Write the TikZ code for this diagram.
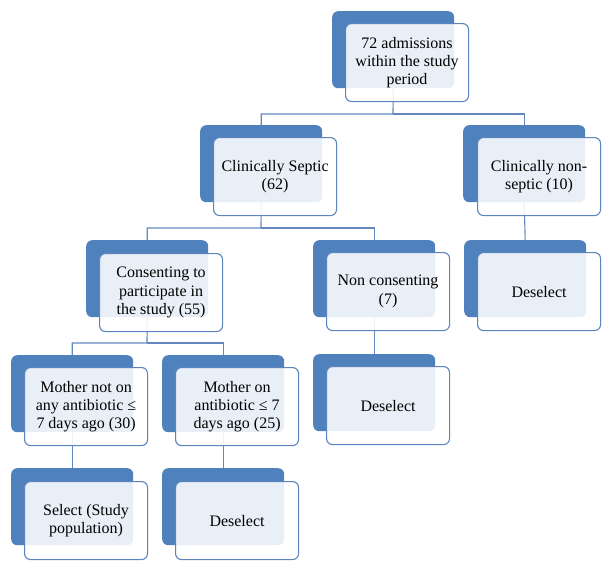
\documentclass[tikz,border=0pt]{standalone}
\usepackage{fontspec}
\setmainfont{Liberation Serif}
\definecolor{bk}{RGB}{79,129,189}
\definecolor{bd}{RGB}{92,132,190}
\definecolor{ln}{RGB}{100,136,190}
\tikzset{
  backbox/.style={fill=bk, draw=none, rounded corners=6pt, minimum width=122pt, minimum height=77pt, anchor=north west, inner sep=0pt},
  frontbox/.style={fill=white, fill opacity=0.88, text opacity=1, draw=bd, draw opacity=1, line width=1.1pt, rounded corners=6pt, minimum width=123pt, minimum height=78pt, anchor=north west, inner sep=2pt, align=center, font=\fontsize{16}{18.3}\selectfont},
  conn/.style={draw=ln, line width=1.1pt}
}
\begin{document}
\begin{tikzpicture}[x=1pt,y=-1pt]
\useasboundingbox (0,0) rectangle (611,570);
% back boxes
\node[backbox] (topb) at (332,11) {};
\node[backbox] (sepb) at (200,125) {};
\node[backbox] (nsepb) at (463,125) {};
\node[backbox] (conb) at (86,240) {};
\node[backbox] (nconb) at (313,240) {};
\node[backbox] (desrb) at (464,240) {};
\node[backbox] (mnotb) at (11,355) {};
\node[backbox] (monb) at (162,355) {};
\node[backbox] (desmb) at (313,354) {};
\node[backbox] (selb) at (11,468) {};
\node[backbox] (deslb) at (162,468) {};
% connectors
\coordinate (j1) at (393,114);
\coordinate (j2) at (261,228);
\coordinate (j3) at (147,343);
\draw[conn] (topb.south) -- (j1) -| (sepb.north);
\draw[conn] (j1) -| (nsepb.north);
\draw[conn] (sepb.south) -- (j2) -| (conb.north);
\draw[conn] (j2) -| (nconb.north);
\draw[conn] (conb.south) -- (j3) -| (mnotb.north);
\draw[conn] (j3) -| (monb.north);
\draw[conn] (nsepb.south) -- (desrb.north);
\draw[conn] (nconb.south) -- (desmb.north);
\draw[conn] (mnotb.south) -- (selb.north);
\draw[conn] (monb.south) -- (deslb.north);
% front boxes
\node[frontbox] (topf) at (345,23) {72 admissions\\within the study\\period};
\node[frontbox] (sepf) at (213,137) {Clinically Septic\\(62)};
\node[frontbox] (nsepf) at (477,137) {Clinically non-\\septic (10)};
\node[frontbox] (conf) at (99,253) {Consenting to\\participate in\\the study (55)};
\node[frontbox] (nconf) at (326,252) {Non consenting\\(7)};
\node[frontbox] (desrf) at (477,252) {Deselect};
\node[frontbox] (mnotf) at (24,367) {Mother not on\\any antibiotic ≤\\7 days ago (30)};
\node[frontbox] (monf) at (175,367) {Mother on\\antibiotic ≤ 7\\days ago (25)};
\node[frontbox] (desmf) at (326,366) {Deselect};
\node[frontbox] (self) at (24,481) {Select (Study\\population)};
\node[frontbox] (deslf) at (175,481) {Deselect};
\end{tikzpicture}
\end{document}
